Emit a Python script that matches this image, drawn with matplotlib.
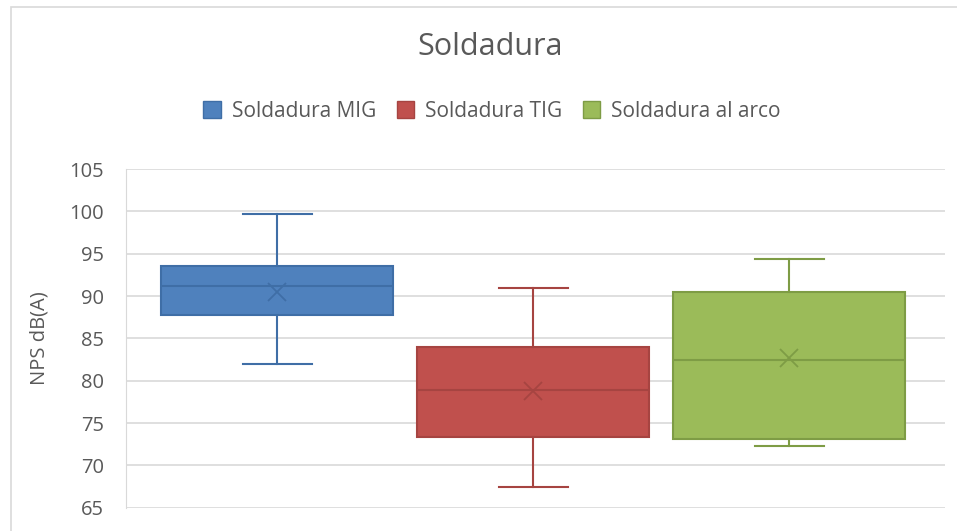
import matplotlib.pyplot as plt
from matplotlib.patches import Rectangle, Patch

# datos (dB(A))
series = ["Soldadura MIG", "Soldadura TIG", "Soldadura al arco"]
whisker_low = [82.0, 67.4, 72.3]
q1 = [87.8, 73.3, 73.1]
median = [91.2, 78.9, 82.5]
q3 = [93.5, 84.0, 90.5]
whisker_high = [99.7, 91.0, 94.4]
mean = [90.5, 78.8, 82.7]

fills = ["#4F81BD", "#C0504D", "#9BBB59"]
edges = ["#3F6EA6", "#A64441", "#7E9C45"]
grey = "#595959"

plt.rcParams['font.family'] = ['Open Sans', 'DejaVu Sans']

fig = plt.figure(figsize=(9.57, 5.31), dpi=100)
ax = fig.add_axes([0.1317, 0.0439, 0.856, 0.6378])

# marco del area del grafico
fig.patches.append(Rectangle((11 / 957, -0.1), 2, 1.087, transform=fig.transFigure,
                             fill=False, edgecolor="#d9d9d9", lw=1.2))

for i in range(3):
    st = [dict(med=median[i], q1=q1[i], q3=q3[i], whislo=whisker_low[i],
               whishi=whisker_high[i], mean=mean[i], fliers=[])]
    ax.bxp(st, positions=[i + 1], widths=0.904, patch_artist=True, showmeans=True,
           boxprops=dict(facecolor=fills[i], edgecolor=edges[i], lw=1.5),
           medianprops=dict(color=edges[i], lw=1.5),
           whiskerprops=dict(color=edges[i], lw=1.5),
           capprops=dict(color=edges[i], lw=1.5), capwidths=0.27,
           meanprops=dict(marker='x', markeredgecolor=edges[i], markersize=13,
                          markeredgewidth=1.3))

ax.set_xlim(0.41, 3.61)
ax.set_ylim(65, 105)
ax.set_yticks(range(65, 106, 5))
ax.set_xticks([])
ax.yaxis.grid(True, color="#d9d9d9", lw=1.2)
ax.set_axisbelow(True)
for s in ["top", "right", "bottom"]:
    ax.spines[s].set_visible(False)
ax.spines["left"].set_color("#d9d9d9")
ax.tick_params(axis='y', length=0, labelsize=14.5, labelcolor=grey, pad=16)
ax.set_ylabel("NPS dB(A)", fontsize=14.5, color=grey, labelpad=14)

fig.text(0.512, 0.912, "Soldadura", ha='center', va='center', fontsize=22, color=grey)

handles = [Patch(facecolor=fills[i], edgecolor=edges[i], label=series[i]) for i in range(3)]
fig.legend(handles=handles, loc='center', bbox_to_anchor=(0.514, 0.79), ncol=3,
           frameon=False, fontsize=15, labelcolor=grey, handlelength=0.85,
           handleheight=0.85, handletextpad=0.5, columnspacing=1.0)

fig.savefig("out.png", dpi=100)
